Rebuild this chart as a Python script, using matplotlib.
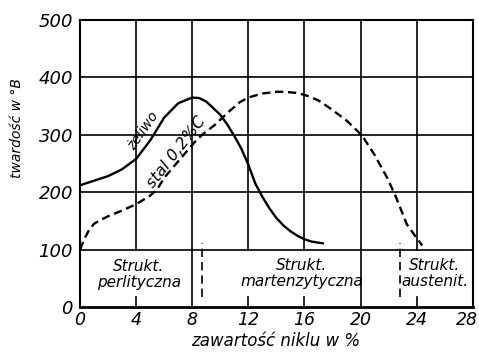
import numpy as np
import matplotlib
matplotlib.use("Agg")
import matplotlib.pyplot as plt
from matplotlib.transforms import ScaledTranslation

plt.rcParams['font.family'] = ['DejaVu Sans']
plt.rcParams['font.style'] = 'italic'

# twardosc zeliwa (linia ciagla)
zeliwo_x = [0, 1, 2, 3, 4, 5, 6, 7, 8, 8.5, 9, 10, 10.5, 11, 11.5, 12, 12.5,
            13, 13.5, 14, 14.5, 15, 15.5, 16, 16.5, 17, 17.3]
zeliwo_y = [212, 220, 228, 240, 258, 290, 330, 355, 365, 364, 358, 335, 318,
            298, 276, 248, 215, 192, 172, 155, 142, 132, 124, 118, 114, 112, 111]

# twardosc stali 0,2% C (linia przerywana)
stal_x = [0, 0.3, 0.6, 1, 1.5, 2, 3, 4, 5, 5.5, 6, 6.8, 7.5, 8.2, 8.7, 9.6,
          10.5, 11.4, 12, 13, 14, 14.5, 15.5, 16.2, 17, 17.9, 19, 20.1, 21,
          21.9, 22.5, 23.3, 24, 24.4]
stal_y = [100, 118, 132, 145, 152, 158, 168, 179, 194, 205, 225, 248, 268,
          288, 300, 317, 338, 357, 365, 372, 375, 375, 373, 368, 360, 345,
          325, 299, 265, 225, 193, 144, 120, 107]

# granice struktur
granice = [8.7, 22.8]

x_ticks = [0, 4, 8, 12, 16, 20, 24, 28]
y_ticks = [0, 100, 200, 300, 400, 500]

fig = plt.figure(figsize=(4.79, 3.52), dpi=100)
ax = fig.add_axes([0.167, 0.128, 0.820, 0.815])

# siatka
for y in [100, 200, 300, 400]:
    ax.plot([0, 28], [y, y], color='black', lw=1.2)
for x in [4, 12, 16, 24]:
    ax.plot([x, x], [100, 500], color='black', lw=1.2)
    ax.plot([x, x], [0, 18], color='black', lw=1.2)
for x in [8, 20]:
    ax.plot([x, x], [0, 500], color='black', lw=1.2)

for g in granice:
    ax.plot([g, g], [18, 112], color='black', lw=1.2, dashes=(5, 3))

ax.plot(zeliwo_x, zeliwo_y, color='black', lw=1.7)
ax.plot(stal_x, stal_y, color='black', lw=1.7, dashes=(3.5, 2))

ax.text(4.0, 268, 'żeliwo', rotation=55, rotation_mode='anchor', ha='left',
        va='bottom', fontsize=10)
ax.text(5.4, 203, 'stal 0,2%C', rotation=52, rotation_mode='anchor', ha='left',
        va='bottom', fontsize=11.5)

ax.text(4.2, 56, 'Strukt.\nperlityczna', ha='center', va='center', fontsize=11,
        linespacing=1.1)
ax.text(15.8, 58, 'Strukt.\nmartenzytyczna', ha='center', va='center', fontsize=11,
        linespacing=1.1)
ax.text(25.3, 58, 'Strukt.\naustenit.', ha='center', va='center', fontsize=11,
        linespacing=1.1)

ax.set_xlim(0, 28)
ax.set_ylim(0, 500)
ax.set_xticks(x_ticks)
ax.set_yticks(y_ticks)
ax.set_xticklabels([str(t) for t in x_ticks], fontsize=12.5)
ax.set_yticklabels([str(t) for t in y_ticks], fontsize=13)
ax.tick_params(axis='x', length=0, pad=3)
ax.tick_params(axis='y', length=0, pad=5)
last = ax.get_xticklabels()[-1]
last.set_horizontalalignment('right')
last.set_transform(last.get_transform() + ScaledTranslation(4 / 72, 0, fig.dpi_scale_trans))
for s in ax.spines.values():
    s.set_linewidth(1.5)
ax.spines['bottom'].set_linewidth(2)

fig.text(0.035, 1 - 128 / 352, 'twardość w °B', rotation=90, ha='center',
         va='center', fontsize=10)
fig.text(276 / 479, 1 - 341 / 352, 'zawartość niklu w %', ha='center',
         va='center', fontsize=12)

fig.savefig('out.png', dpi=100)
